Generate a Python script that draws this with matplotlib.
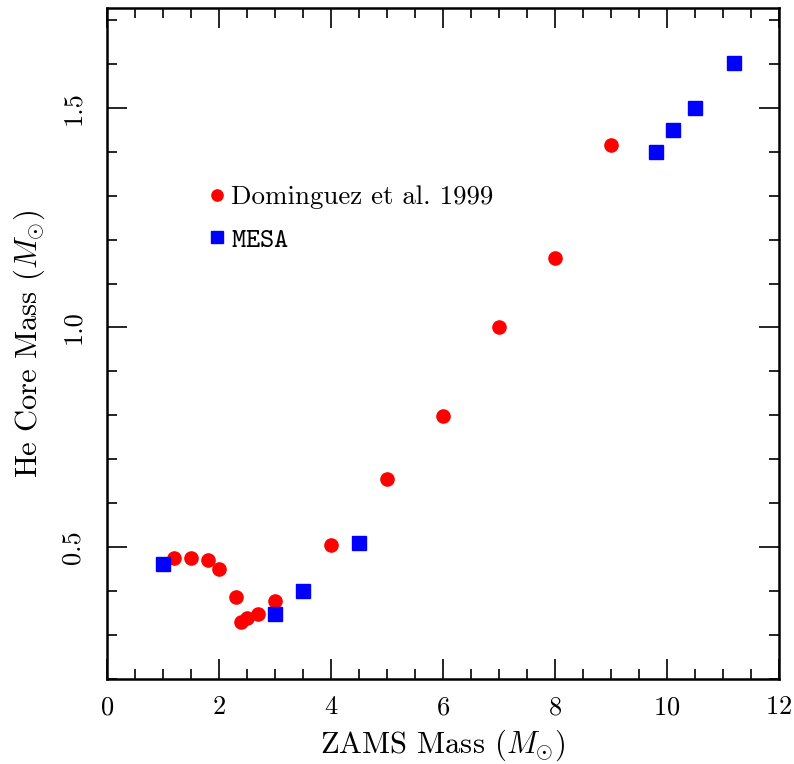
import matplotlib
matplotlib.use("Agg")
import matplotlib.pyplot as plt
from matplotlib.ticker import MultipleLocator

# Computer Modern look
plt.rcParams['font.family'] = ['cmr10', 'DejaVu Serif']
plt.rcParams['mathtext.fontset'] = 'cm'
plt.rcParams['axes.formatter.use_mathtext'] = True

# Dominguez et al. 1999
dom_zams = [1.2, 1.5, 1.8, 2.0, 2.3, 2.4, 2.5, 2.7, 3.0, 4.0, 5.0, 6.0, 7.0, 8.0, 9.0]
dom_core = [0.475, 0.475, 0.470, 0.450, 0.386, 0.329, 0.339, 0.347, 0.377, 0.505,
            0.655, 0.798, 1.000, 1.157, 1.416]

# MESA
mesa_zams = [1.0, 3.0, 3.5, 4.5, 9.8, 10.1, 10.5, 11.2]
mesa_core = [0.461, 0.348, 0.400, 0.509, 1.400, 1.450, 1.500, 1.602]

fig = plt.figure(figsize=(7.94, 7.64), dpi=100)
ax = fig.add_axes([0.1348, 0.1113, 0.8462, 0.8782])

ax.plot(dom_zams, dom_core, 'o', color='red', markersize=9.5, linestyle='none',
        label='Dominguez et al. 1999')
ax.plot(mesa_zams, mesa_core, 's', color='blue', markersize=9.5, linestyle='none',
        label=r'$\mathtt{MESA}$')

ax.set_xlim(0, 12)
ax.set_ylim(0.2, 1.727)

ax.xaxis.set_major_locator(MultipleLocator(2))
ax.xaxis.set_minor_locator(MultipleLocator(0.5))
ax.yaxis.set_major_locator(MultipleLocator(0.5))
ax.yaxis.set_minor_locator(MultipleLocator(0.1))
ax.yaxis.set_major_formatter(matplotlib.ticker.FormatStrFormatter('%.1f'))

ax.tick_params(which='both', direction='in', top=True, right=True, labelsize=19)
ax.tick_params(which='major', length=14.4, width=1.2)
ax.tick_params(which='minor', length=7.2, width=1.2)
ax.tick_params(axis='x', pad=12)
ax.tick_params(axis='y', pad=16)
for lbl in ax.get_yticklabels():
    lbl.set_rotation(90)
    lbl.set_va('center')
for sp in ax.spines.values():
    sp.set_linewidth(1.8)

ax.set_xlabel(r'ZAMS Mass ($M_{\odot}$)', fontsize=22, labelpad=6)
ax.set_ylabel(r'He Core Mass ($M_{\odot}$)', fontsize=22, labelpad=10)

ax.legend(loc='upper left', bbox_to_anchor=(0.108, 0.772), frameon=False,
          numpoints=1, handletextpad=0.0, labelspacing=0.7, fontsize=19.4,
          handlelength=1.0, markerscale=0.85)

fig.savefig('out.png', dpi=100)
